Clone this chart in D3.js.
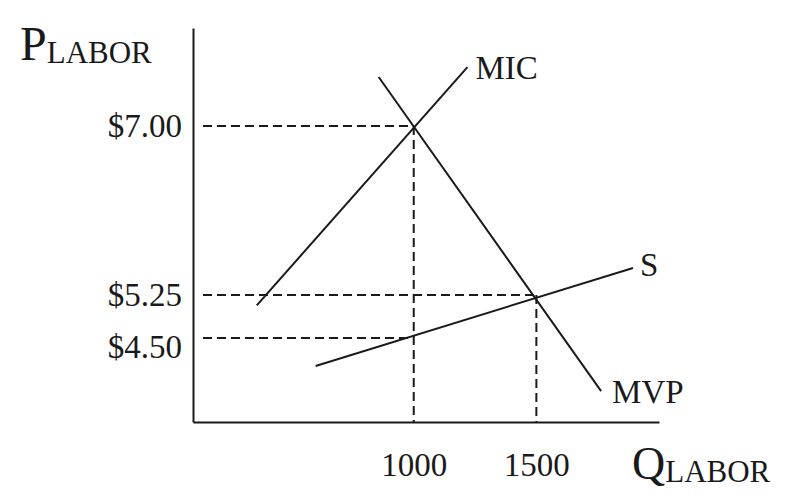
<!DOCTYPE html>
<html>
<head>
<meta charset="utf-8">
<script src="https://cdn.jsdelivr.net/npm/d3@7/dist/d3.min.js"></script>
<style>
  html, body { margin: 0; padding: 0; background: #fff; }
  svg { display: block; }
  text { font-family: "Liberation Serif", "Times New Roman", serif; fill: #1a1a1a; }
</style>
</head>
<body>
<script>
// ---- data ----
const priceTicks = [4.50, 5.25, 7.00];
const priceTickLabels = ["$4.50", "$5.25", "$7.00"];
const qtyTicks = [1000, 1500];
const qtyTickLabels = ["1000", "1500"];

const micQ = [360, 1219];
const micP = [5.07, 7.60];
const mvpQ = [857, 1764];
const mvpP = [7.50, 3.55];
const supplyQ = [600, 1894];
const supplyP = [4.00, 5.53];

const curveNames = ["MIC", "MVP", "S"];

// equilibrium / reference points for dashed guides [q, p]
const guideQ = [1000, 1500, 1000];
const guideP = [7.00, 5.25, 4.50];

// axis domains
const qDomain = [100, 2000];
const pDomain = [3.0, 4.5, 5.25, 7.0, 8.0]; // diagram is not drawn to scale

// ---- layout ----
const W = 786, H = 504;
const svg = d3.select("body").append("svg").attr("width", W).attr("height", H);

const x = d3.scaleLinear().domain(qDomain).range([193, 659]);
const y = d3.scaleLinear().domain(pDomain).range([422, 338, 295, 126, 28]);

const ink = "#1a1a1a";

// dashed guides
const guides = svg.append("g").attr("stroke", ink).attr("stroke-width", 2)
  .attr("stroke-dasharray", "9,5").attr("fill", "none");
guideQ.forEach((q, i) => {
  const p = guideP[i];
  guides.append("line")
    .attr("x1", x(qDomain[0]) + 10).attr("x2", x(q))
    .attr("y1", y(p)).attr("y2", y(p));
});
[0, 1].forEach(i => {
  guides.append("line")
    .attr("x1", x(guideQ[i])).attr("x2", x(guideQ[i]))
    .attr("y1", y(guideP[i])).attr("y2", y(pDomain[0]));
});

// curves
const line = d3.line().x(d => x(d[0])).y(d => y(d[1]));
const curves = [
  d3.zip(micQ, micP),
  d3.zip(mvpQ, mvpP),
  d3.zip(supplyQ, supplyP)
];
svg.append("g").selectAll("path").data(curves).join("path")
  .attr("d", line).attr("fill", "none").attr("stroke", ink).attr("stroke-width", 2);

// curve labels
const labelFont = 33;
const lab = svg.append("g").attr("font-size", labelFont);
lab.append("text").attr("x", x(micQ[1]) + 8).attr("y", y(micP[1]) + 12).text(curveNames[0]);
lab.append("text").attr("x", x(mvpQ[1]) + 11).attr("y", y(mvpP[1]) + 12).text(curveNames[1]);
lab.append("text").attr("x", x(supplyQ[1]) + 7).attr("y", y(supplyP[1]) + 8).text(curveNames[2]);

// axes
const xAxis = d3.axisBottom(x).tickValues(qtyTicks)
  .tickFormat((d, i) => qtyTickLabels[i]).tickSize(0).tickPadding(31);
const yAxis = d3.axisLeft(y).tickValues(priceTicks)
  .tickFormat((d, i) => priceTickLabels[i]).tickSize(0).tickPadding(11);

const gx = svg.append("g").attr("transform", `translate(0,${y(pDomain[0])})`).call(xAxis);
const gy = svg.append("g").attr("transform", `translate(${x(qDomain[0])},0)`).call(yAxis);
[gx, gy].forEach(g => {
  g.select(".domain").attr("stroke", ink).attr("stroke-width", 2);
  g.selectAll("text").attr("font-size", labelFont)
    .attr("font-family", "'Liberation Serif', 'Times New Roman', serif").attr("fill", ink);
});
// the $4.50 label sits just below its guide so it does not crowd $5.25
gy.selectAll(".tick text").filter(d => d === 4.5).attr("dy", "0.6em");

// axis titles
const yt = svg.append("text").attr("x", 20).attr("y", 60);
yt.append("tspan").attr("font-size", 48).text("P");
yt.append("tspan").attr("font-size", 31).attr("dy", 3).text("LABOR");

const xt = svg.append("text").attr("x", 632).attr("y", 479);
xt.append("tspan").attr("font-size", 46).text("Q");
xt.append("tspan").attr("font-size", 31).attr("dy", 3).text("LABOR");
</script>
</body>
</html>
